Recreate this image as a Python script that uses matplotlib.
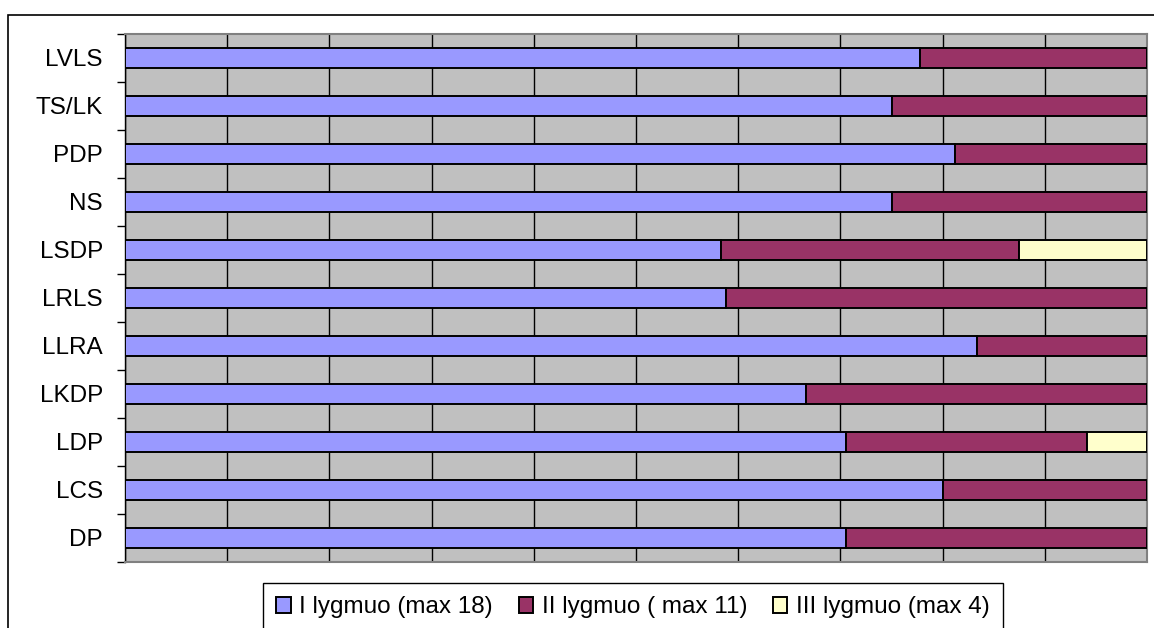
import matplotlib
matplotlib.use("Agg")
import matplotlib.pyplot as plt
from matplotlib.patches import Rectangle
import numpy as np

plt.rcParams["font.family"] = ["Liberation Sans", "DejaVu Sans"]

# Parties, top to bottom
parties = ["LVLS", "TS/LK", "PDP", "NS", "LSDP", "LRLS", "LLRA", "LKDP", "LDP", "LCS", "DP"]
level1 = [14, 12, 13, 12, 14, 10, 15, 12, 12, 12, 12]
level2 = [4, 4, 3, 4, 7, 7, 3, 6, 4, 3, 5]
level3 = [0, 0, 0, 0, 3, 0, 0, 0, 1, 0, 0]
series_names = ["I lygmuo (max 18)", "II lygmuo ( max 11)", "III lygmuo (max 4)"]
colors = ["#9999FF", "#993366", "#FFFFCC"]

data = np.array([level1, level2, level3], dtype=float)
share = data / data.sum(axis=0)

fig = plt.figure(figsize=(11.54, 6.28), dpi=100)
# outer chart frame (cut off at right/bottom like the original)
fig.patches.append(Rectangle((8 / 1154, -0.1), 1.2, 1.1 - 15 / 628,
                             transform=fig.transFigure, fill=False,
                             edgecolor="black", linewidth=1.2))

ax = fig.add_axes([125 / 1154, 1 - 562 / 628, 1022 / 1154, 528 / 628])
ax.set_facecolor("#C0C0C0")

y = np.arange(len(parties))
left = np.zeros(len(parties))
handles = []
for vals, name, col in zip(share, series_names, colors):
    h = ax.barh(y, vals, left=left, height=0.4, color=col, edgecolor="black",
                linewidth=1.4, label=name, zorder=3)
    handles.append(h)
    left += vals

ax.set_xlim(0, 1)
ax.set_ylim(len(parties) - 0.5, -0.5)
ax.set_xticks(np.linspace(0, 1, 11))
ax.xaxis.grid(True, color="black", linewidth=1, zorder=1)
ax.set_axisbelow(True)
ax.tick_params(axis="x", length=0, labelbottom=False)

ax.set_yticks(y)
ax.set_yticklabels(parties)
ax.set_yticks(np.arange(len(parties) + 1) - 0.5, minor=True)
ax.tick_params(axis="y", which="major", length=0, pad=16, labelsize=17.5)
ax.tick_params(axis="y", which="minor", length=6, width=1, color="black")

for s in ["top", "right", "bottom"]:
    ax.spines[s].set_color("#808080")
    ax.spines[s].set_linewidth(1.5)
ax.spines["left"].set_color("black")
ax.spines["left"].set_linewidth(1)

leg = fig.legend(handles=handles, loc="upper center", ncol=3,
                 bbox_to_anchor=(633 / 1154, 1 - 583 / 628),
                 fontsize=17.5, frameon=True, fancybox=False, framealpha=1,
                 edgecolor="black", handlelength=0.6, handleheight=0.6,
                 handletextpad=0.35, columnspacing=1.05, borderpad=0.55,
                 borderaxespad=0)
leg.get_frame().set_linewidth(1)

fig.savefig("out.png", dpi=100)
